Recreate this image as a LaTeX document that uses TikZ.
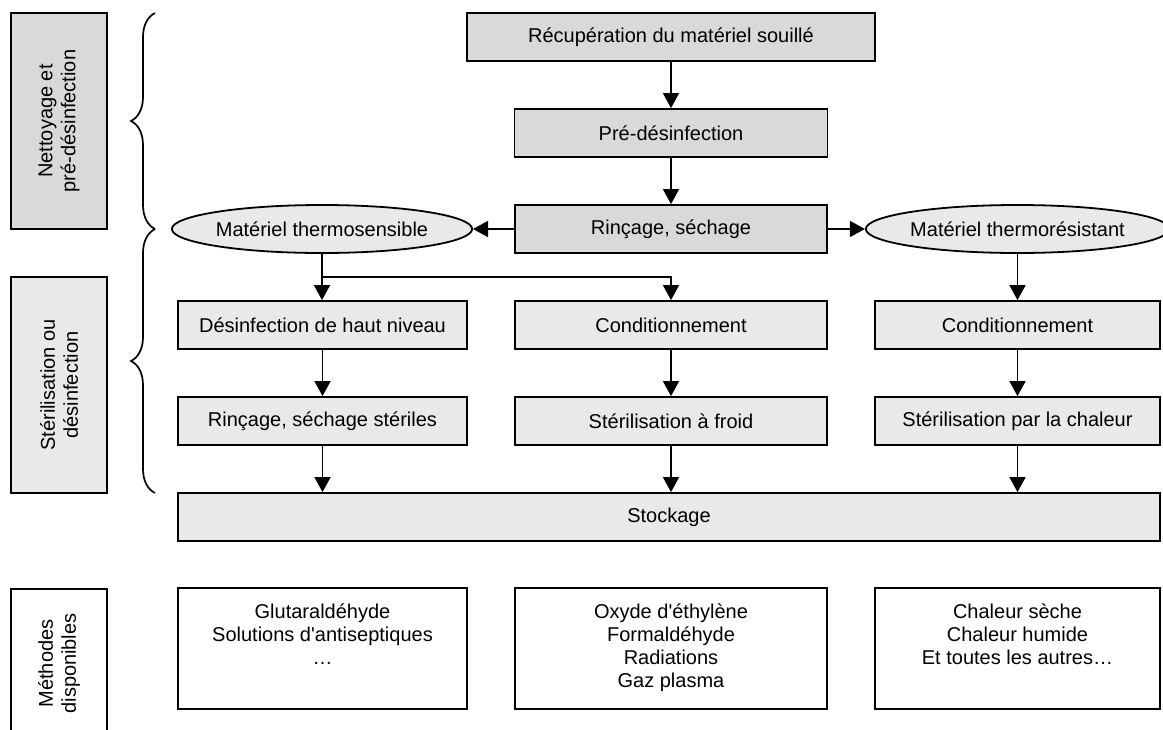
\documentclass[tikz,border=0pt]{standalone}
\usepackage{fontspec}
\setmainfont{Liberation Sans}
\usetikzlibrary{arrows.meta,shapes.geometric,decorations.pathreplacing}

\begin{document}
\begin{tikzpicture}
[
	x=1pt,y=-1pt,
	every node/.style={font=\fontsize{20pt}{23pt}\selectfont},
	box/.style={draw,line width=1.8pt,inner sep=0pt,minimum height=48pt},
	darkbox/.style={box,fill=gray!30!white},
	lightbox/.style={box,fill=gray!17!white},
	oval/.style={ellipse,draw,line width=1.8pt,fill=gray!17!white,inner sep=0pt,minimum width=288pt,minimum height=48pt},
	methbox/.style={draw,line width=1.8pt,fill=white,minimum height=121pt},
	methtext/.style={anchor=north,align=center,inner sep=0pt,yshift=-16pt},
	sidebox/.style={box,rotate=90,align=center,minimum width=216pt,minimum height=96pt},
	flow/.style={-{Triangle[length=15pt,width=16pt]},line width=1.7pt},
	bracket/.style={decorate,decoration={brace,amplitude=24pt},line width=1.7pt}
]

	\useasboundingbox (0,0) rectangle (1163,729);
	\clip (0,0) rectangle (1163,729);

	% side labels
	\node[sidebox,fill=gray!30!white] (nettoyage) at (59,121) {Nettoyage et\\pré-désinfection};
	\node[sidebox,fill=gray!17!white] (sterilis) at (59,385) {Stérilisation ou\\désinfection};
	\node[sidebox,fill=white,minimum width=149pt] (methodes) at (59,663.5) {Méthodes\\disponibles};

	% braces
	\draw[bracket] (155,229) -- (155,13);
	\draw[bracket] (155,493) -- (155,229);

	% top of the chain
	\node[darkbox,minimum width=408pt] (recup) at (671,37) {Récupération du matériel souillé};
	\node[darkbox,minimum width=313pt] (predes) at (671,133) {Pré-désinfection};
	\node[darkbox,minimum width=312pt] (rinc) at (671,229) {Rinçage, séchage};
	\node[oval] (sensible) at (322,229) {Matériel thermosensible};
	\node[oval,minimum width=285pt] (resistant) at (1017.5,229) {Matériel thermorésistant};

	% three columns
	\node[lightbox,minimum width=289pt] (desinf) at (322.5,325) {Désinfection de haut niveau};
	\node[lightbox,minimum width=312pt] (condfroid) at (671,325) {Conditionnement};
	\node[lightbox,minimum width=285pt] (condchaud) at (1017.5,325) {Conditionnement};
	%
	\node[lightbox,minimum width=289pt] (rincster) at (322.5,421) {Rinçage, séchage stériles};
	\node[lightbox,minimum width=312pt] (sterfroid) at (671,421) {Stérilisation à froid};
	\node[lightbox,minimum width=285pt] (sterchaud) at (1017.5,421) {Stérilisation par la chaleur};
	%
	\node[lightbox,minimum width=982pt] (stockage) at (669,517) {Stockage};

	% methods
	\node[methbox,minimum width=289pt] (meth1) at (322.5,648.5) {};
	\node[methbox,minimum width=312pt] (meth2) at (671,648.5) {};
	\node[methbox,minimum width=285pt] (meth3) at (1017.5,648.5) {};
	\node[methtext] at (meth1.north) {Glutaraldéhyde\\Solutions d\textquotesingle antiseptiques\\…};
	\node[methtext] at (meth2.north) {Oxyde d\textquotesingle éthylène\\Formaldéhyde\\Radiations\\Gaz plasma};
	\node[methtext] at (meth3.north) {Chaleur sèche\\Chaleur humide\\Et toutes les autres…};

	% arrows
	\draw[flow] (recup) -- (predes);
	\draw[flow] (predes) -- (rinc);
	\draw[flow] (rinc) -- (sensible);
	\draw[flow] (rinc) -- (resistant);
	\draw[flow] (sensible.south) -- (sensible.south |- desinf.north);
	\coordinate (split) at (322,277);
	\draw[flow] (split) -| (condfroid);
	\draw[flow] (resistant) -- (resistant |- condchaud.north);
	%
	\draw[flow] (desinf) -- (rincster);
	\draw[flow] (condfroid) -- (sterfroid);
	\draw[flow] (condchaud) -- (sterchaud);
	%
	\draw[flow] (rincster) -- (rincster |- stockage.north);
	\draw[flow] (sterfroid) -- (sterfroid |- stockage.north);
	\draw[flow] (sterchaud) -- (sterchaud |- stockage.north);

\end{tikzpicture}
\end{document}
